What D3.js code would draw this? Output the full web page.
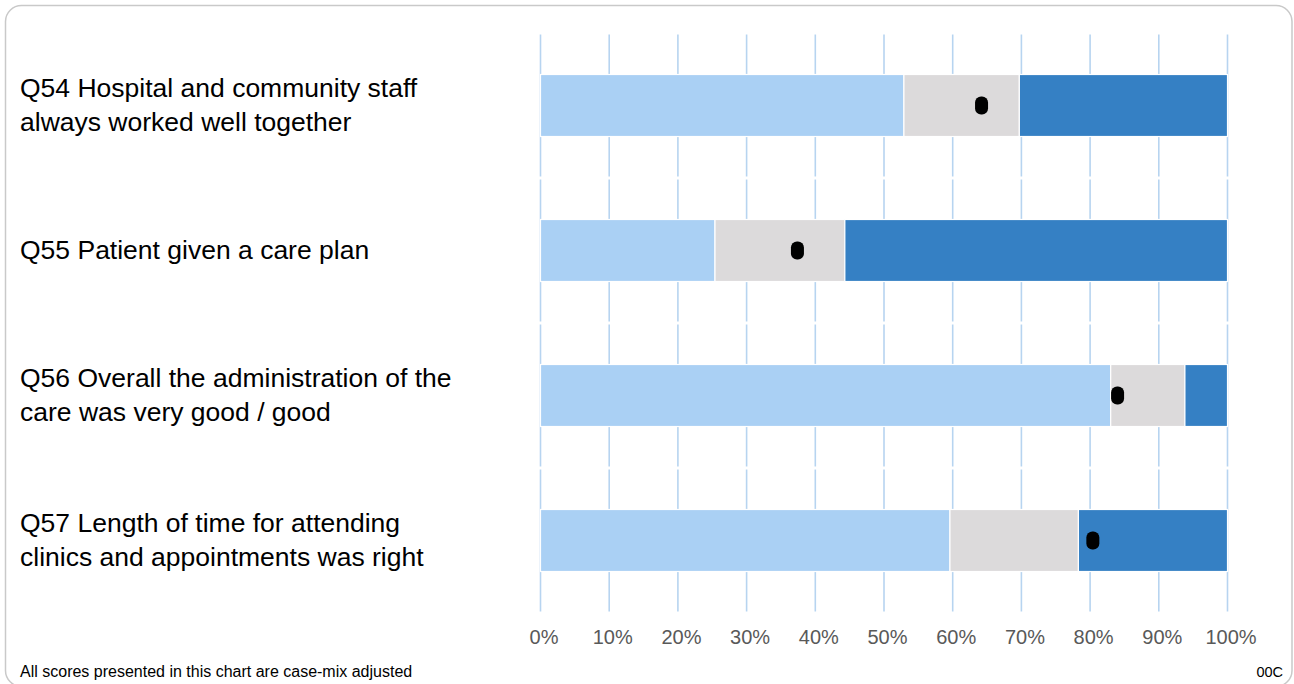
<!DOCTYPE html>
<html>
<head>
<meta charset="utf-8">
<script src="https://cdn.jsdelivr.net/npm/d3@7"></script>
<style>
  body { margin: 0; background: #fff; }
  svg { display: block; font-family: 'Liberation Sans', Arial, sans-serif; }
</style>
</head>
<body>
<script>
// Chart data
const questions = ['Q54', 'Q55', 'Q56', 'Q57'];
const labelLines = [
  ['Q54 Hospital and community staff', 'always worked well together'],
  ['Q55 Patient given a care plan'],
  ['Q56 Overall the administration of the', 'care was very good / good'],
  ['Q57 Length of time for attending', 'clinics and appointments was right']
];
const belowRange = [52.9, 25.4, 83.0, 59.6];
const expectedRange = [16.8, 18.9, 10.8, 18.7];
const aboveRange = [30.3, 55.7, 6.2, 21.7];
const trustScore = [64.2, 37.4, 84.0, 80.4];
const tickValues = [0, 10, 20, 30, 40, 50, 60, 70, 80, 90, 100];
const footnote = 'All scores presented in this chart are case-mix adjusted';
const code = '00C';

const width = 1294;
const height = 684;

const svg = d3.select('body').append('svg')
  .attr('width', width)
  .attr('height', height);

// Rounded frame
svg.append('rect')
  .attr('x', 5.5)
  .attr('y', 5.5)
  .attr('width', width - 7.5)
  .attr('height', height - 3)
  .attr('rx', 16)
  .attr('fill', 'none')
  .attr('stroke', '#c9c9c9')
  .attr('stroke-width', 1.5);

// Scales
const x = d3.scaleLinear().domain([0, 100]).range([540.5, 1227.5]);
const y = d3.scaleBand().domain(questions).range([33, 613]).paddingInner(0).paddingOuter(0);
const barHeight = 62;

// Gridlines, broken at each band boundary
const grid = svg.append('g').attr('class', 'grid');
questions.forEach((q) => {
  grid.selectAll(null)
    .data(tickValues)
    .enter()
    .append('line')
    .attr('x1', (d) => x(d))
    .attr('x2', (d) => x(d))
    .attr('y1', y(q) + 1.5)
    .attr('y2', y(q) + y.bandwidth() - 1.5)
    .attr('stroke', '#b7d4f0')
    .attr('stroke-width', 1.6);
});

// Stacked bars
const rows = questions.map((q, i) => ({
  q: q,
  below: belowRange[i],
  expected: expectedRange[i],
  above: aboveRange[i]
}));
const keys = ['below', 'expected', 'above'];
const colours = { below: '#aad0f4', expected: '#dcdadb', above: '#3580c4' };
const stacked = d3.stack().keys(keys)(rows);

svg.append('g')
  .selectAll('g')
  .data(stacked)
  .enter()
  .append('g')
  .attr('fill', (s) => colours[s.key])
  .selectAll('rect')
  .data((s) => s)
  .enter()
  .append('rect')
  .attr('x', (d) => x(d[0]))
  .attr('width', (d) => x(d[1]) - x(d[0]))
  .attr('y', (d) => y(d.data.q) + y.bandwidth() / 2 - barHeight / 2)
  .attr('height', barHeight)
  .attr('stroke', '#fff')
  .attr('stroke-width', 1.2);

// Score markers
svg.append('g')
  .selectAll('rect')
  .data(trustScore)
  .enter()
  .append('rect')
  .attr('x', (d) => x(d) - 6.5)
  .attr('y', (d, i) => y(questions[i]) + y.bandwidth() / 2 - 9)
  .attr('width', 13)
  .attr('height', 18)
  .attr('rx', 6)
  .attr('fill', '#000');

// Category labels
const labels = svg.append('g').attr('class', 'labels');
labelLines.forEach((lines, i) => {
  const cy = y(questions[i]) + y.bandwidth() / 2;
  const lineGap = 34;
  const t = labels.append('text')
    .attr('x', 20)
    .attr('font-size', '26.5px')
    .attr('fill', '#000');
  lines.forEach((line, j) => {
    t.append('tspan')
      .attr('x', 20)
      .attr('y', cy + (j - (lines.length - 1) / 2) * lineGap + 8.5)
      .text(line);
  });
});

// X axis labels
const axis = svg.append('g')
  .attr('transform', 'translate(3, 644)')
  .call(d3.axisBottom(x).tickValues(tickValues).tickFormat((d) => d + '%').tickSize(0).tickPadding(0));
axis.select('.domain').remove();
axis.selectAll('text')
  .attr('dy', 0)
  .attr('font-size', '20px')
  .attr('font-family', "'Liberation Sans', Arial, sans-serif")
  .attr('fill', '#595959');

// Footer
svg.append('text')
  .attr('x', 20)
  .attr('y', 677)
  .attr('font-size', '16px')
  .attr('fill', '#000')
  .text(footnote);

svg.append('text')
  .attr('x', 1283)
  .attr('y', 677)
  .attr('text-anchor', 'end')
  .attr('font-size', '14.5px')
  .attr('fill', '#000')
  .text(code);
</script>
</body>
</html>
